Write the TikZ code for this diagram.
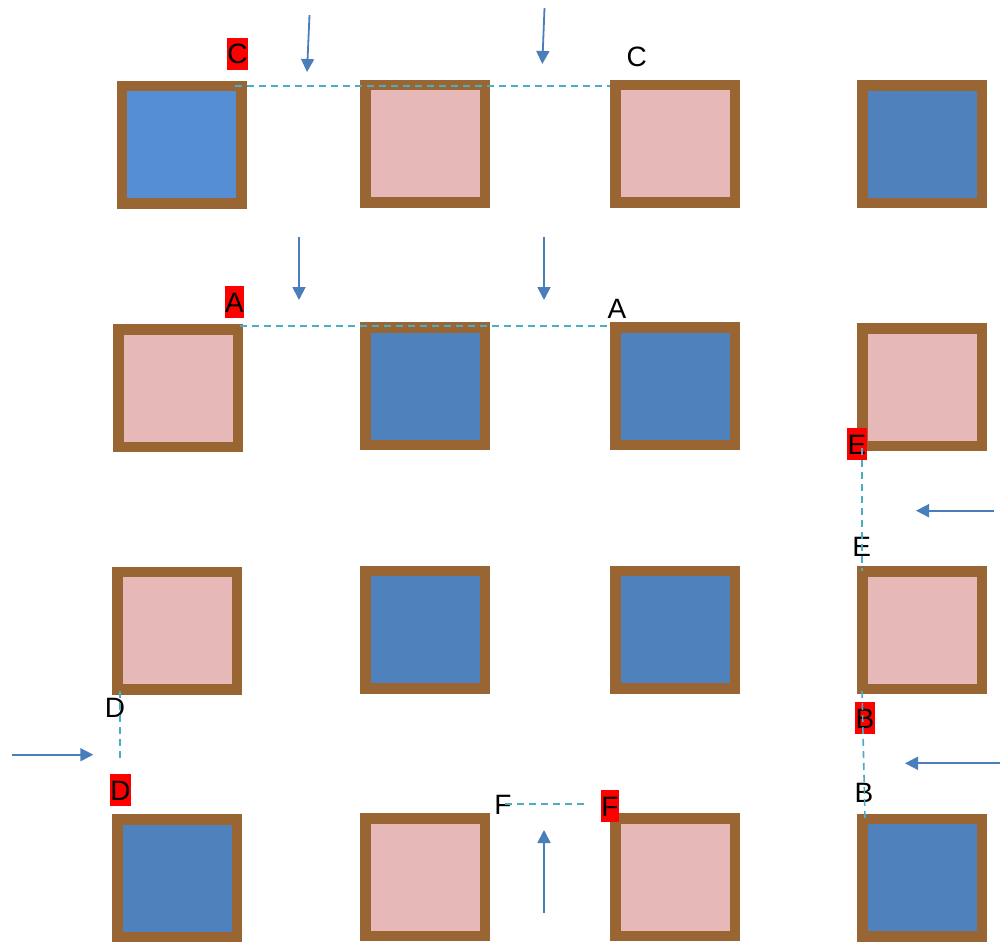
\documentclass[tikz,border=0pt]{standalone}
\usepackage{fontspec}
\setmainfont{Liberation Sans}
\usetikzlibrary{arrows.meta}
\definecolor{pinkfill}{HTML}{E6B9B8}
\definecolor{bluefill}{HTML}{4F81BD}
\definecolor{lightbluefill}{HTML}{558ED5}
\definecolor{brownframe}{HTML}{996633}
\definecolor{dashcol}{HTML}{4BACC6}
\definecolor{arrowcol}{HTML}{4A7EBB}
\begin{document}
\begin{tikzpicture}[x=1pt,y=-1pt,
  cell/.style={draw=brownframe, line width=10.5pt, inner sep=0pt, minimum width=119.5pt, minimum height=117.5pt},
  pinkcell/.style={cell, fill=pinkfill},
  bluecell/.style={cell, fill=bluefill},
  lbl/.style={inner sep=0pt, font=\fontsize{28}{30}\selectfont, text height=20pt, text depth=0pt},
  redlbl/.style={lbl, fill=red, inner xsep=0.6pt, minimum height=32pt},
  cut/.style={dashcol, dash pattern=on 7pt off 5pt, line width=1.6pt},
  flow/.style={arrowcol, line width=1.8pt, -{Triangle[length=13pt,width=13pt]}}]
\useasboundingbox (0,0) rectangle (1000,942);
% row 1
\node[cell, fill=lightbluefill] (b11) at (181.5,144.5) {};
\node[pinkcell] (b12) at (425,143.5) {};
\node[pinkcell] (b13) at (675,143.5) {};
\node[bluecell] (b14) at (922,144) {};
% row 2
\node[pinkcell] (b21) at (178,388) {};
\node[bluecell] (b22) at (425,386) {};
\node[bluecell] (b23) at (675,386) {};
\node[pinkcell] (b24) at (922,387) {};
% row 3
\node[pinkcell] (b31) at (177,630.5) {};
\node[bluecell] (b32) at (425,629.5) {};
\node[bluecell] (b33) at (675,629.5) {};
\node[pinkcell] (b34) at (922,630) {};
% row 4
\node[bluecell] (b41) at (177,878) {};
\node[pinkcell] (b42) at (425,877) {};
\node[pinkcell] (b43) at (675,877) {};
\node[bluecell] (b44) at (922,877.5) {};
% labels
\node[redlbl] (cr) at (237.5,53.7) {C};
\node[lbl] (cb) at (636.7,56.7) {C};
\node[redlbl] (ar) at (234.5,302) {A};
\node[lbl] (ab) at (617,308) {A};
\node[redlbl] (er) at (857,444) {E};
\node[lbl] (eb) at (861.7,546.7) {E};
\node[redlbl] (br) at (865,718) {B};
\node[lbl] (bb) at (864,792.7) {B};
\node[lbl] (db) at (115,707.7) {D};
\node[redlbl] (dr) at (120.5,790) {D};
\node[lbl] (fb) at (503,804) {F};
\node[redlbl] (fr) at (610,806) {F};
% dashed cut lines
\coordinate (c1) at (235,86);  \coordinate (c2) at (610,86);
\coordinate (a1) at (240,326);   \coordinate (a2) at (608,326);
\coordinate (e1) at (862,448);   \coordinate (e2) at (862,571);
\coordinate (bt1) at (862,691);  \coordinate (bt2) at (865,818);
\coordinate (d1) at (120,691);   \coordinate (d2) at (120,759);
\coordinate (f1) at (505,804);   \coordinate (f2) at (585,804);
\draw[cut] (c1) -- (c2);
\draw[cut] (a1) -- (a2);
\draw[cut] (e1) -- (e2);
\draw[cut] (bt1) -- (bt2);
\draw[cut] (d1) -- (d2);
\draw[cut] (f1) -- (f2);
% arrows
\coordinate (t1s) at (309.5,15);  \coordinate (t1e) at (307,72);
\coordinate (t2s) at (544.5,8);   \coordinate (t2e) at (542.3,64);
\coordinate (m1s) at (299,237);   \coordinate (m1e) at (299,300);
\coordinate (m2s) at (544,237);   \coordinate (m2e) at (544,300);
\coordinate (es) at (994,510.7);  \coordinate (ee) at (916,510.7);
\coordinate (bs) at (1000,763.3); \coordinate (be) at (905,763.3);
\coordinate (ds) at (11.7,754.7); \coordinate (de) at (93.3,754.7);
\coordinate (fs) at (544,912.7);  \coordinate (fe) at (544,830);
\draw[flow] (t1s) -- (t1e);
\draw[flow] (t2s) -- (t2e);
\draw[flow] (m1s) -- (m1e);
\draw[flow] (m2s) -- (m2e);
\draw[flow] (es) -- (ee);
\draw[flow] (bs) -- (be);
\draw[flow] (ds) -- (de);
\draw[flow] (fs) -- (fe);
\end{tikzpicture}
\end{document}
